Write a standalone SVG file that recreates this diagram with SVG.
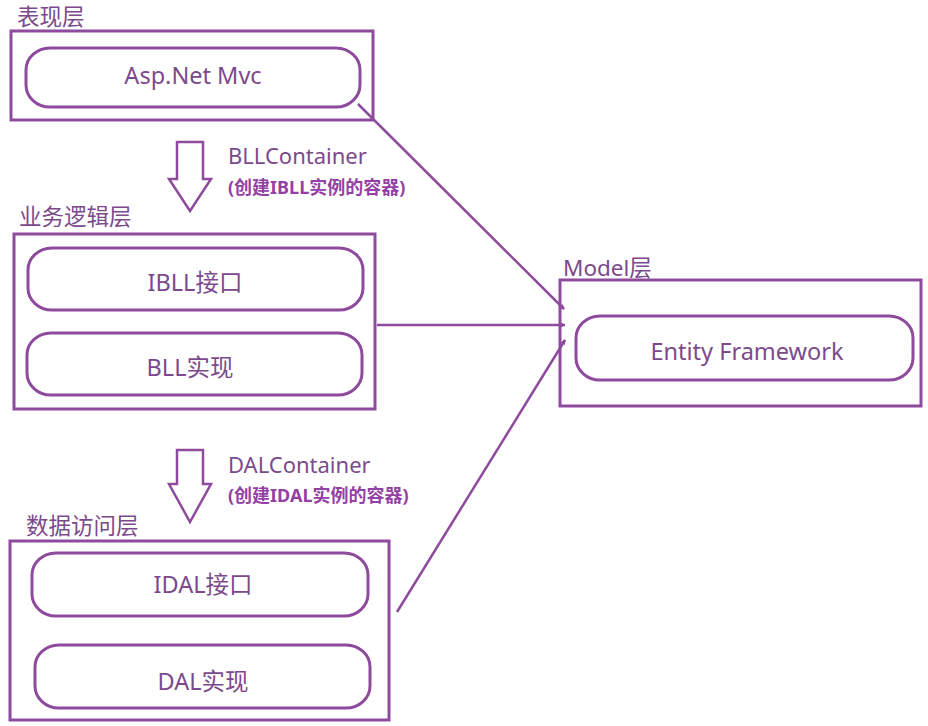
<svg xmlns="http://www.w3.org/2000/svg" width="928" height="726" viewBox="0 0 928 726">
<style>
text{font-family:"Noto Sans","Noto Sans CJK SC",sans-serif;fill:#7c4a8c}
.lbl{font-size:22.5px}
.node{font-size:23.5px;text-anchor:middle}
.ctr{font-size:22px}
.sub{font-size:18px;font-weight:bold;fill:#9440a4}
.box{fill:none;stroke:#8e4a9c;stroke-width:3}
.cap{fill:none;stroke:#8e4a9c;stroke-width:3}
.con{fill:none;stroke:#8e4a9c;stroke-width:2.5}
.harrow{fill:none;stroke:#8e4a9c;stroke-width:2.5;stroke-linejoin:miter}
</style>
<defs>
<marker id="ah" viewBox="0 0 10 10" refX="9" refY="5" markerWidth="5" markerHeight="5" orient="auto" markerUnits="userSpaceOnUse">
<path d="M0,1 L9,5 L0,9" fill="none" stroke="#8e4a9c" stroke-width="2"/>
</marker>
</defs>
<rect width="928" height="726" fill="#ffffff"/>

<g id="presentation">
<text class="lbl" x="17" y="25">表现层</text>
<rect class="box" x="11" y="31" width="362" height="89"/>
<rect class="cap" x="26" y="48" width="334" height="59" rx="24" ry="22"/>
<text class="node" x="193" y="84">Asp.Net Mvc</text>
</g>

<g id="bll-container">
<path class="harrow" d="M177,142 H203 V179 H211 L190,211 L169,179 H177 Z"/>
<text class="ctr" x="228" y="164">BLLContainer</text>
<text class="sub" x="228" y="194">(创建IBLL实例的容器)</text>
</g>

<g id="bll">
<text class="lbl" x="19" y="225">业务逻辑层</text>
<rect class="box" x="14" y="234" width="361" height="175"/>
<rect class="cap" x="28" y="248" width="335" height="62" rx="24" ry="22"/>
<text class="node" x="195" y="291">IBLL接口</text>
<rect class="cap" x="27" y="333" width="335" height="62" rx="24" ry="22"/>
<text class="node" x="190" y="376">BLL实现</text>
</g>

<g id="model">
<text class="lbl" x="563" y="276">Model层</text>
<rect class="box" x="560" y="280" width="361" height="126"/>
<rect class="cap" x="576" y="316" width="337" height="64" rx="24" ry="22"/>
<text class="node" x="747" y="360">Entity Framework</text>
</g>

<g id="dal-container">
<path class="harrow" d="M177,450 H203 V484 H211 L190,522 L169,484 H177 Z"/>
<text class="ctr" x="228" y="473">DALContainer</text>
<text class="sub" x="228" y="502">(创建IDAL实例的容器)</text>
</g>

<g id="dal">
<text class="lbl" x="26" y="534">数据访问层</text>
<rect class="box" x="10" y="541" width="379" height="179"/>
<rect class="cap" x="32" y="553" width="336" height="63" rx="24" ry="22"/>
<text class="node" x="203" y="593">IDAL接口</text>
<rect class="cap" x="35" y="645" width="335" height="63" rx="24" ry="22"/>
<text class="node" x="203" y="690">DAL实现</text>
</g>

<g id="connectors">
<line class="con" x1="358" y1="104" x2="564" y2="309" marker-end="url(#ah)"/>
<line class="con" x1="377" y1="325" x2="565" y2="325" marker-end="url(#ah)"/>
<line class="con" x1="397" y1="612" x2="565" y2="340" marker-end="url(#ah)"/>
</g>
</svg>
